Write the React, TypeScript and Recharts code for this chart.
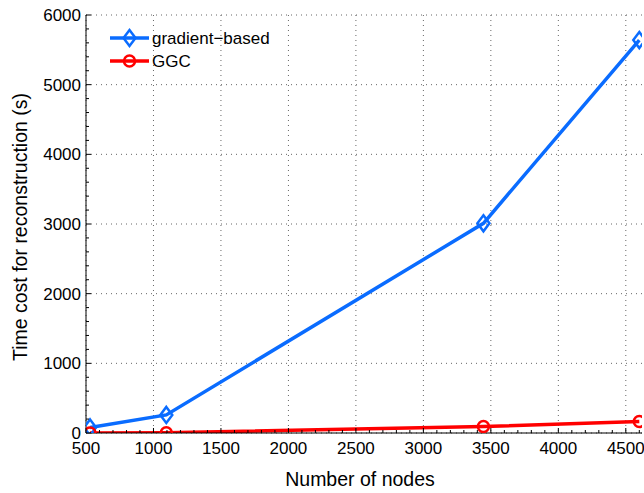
import { CartesianGrid, Legend, Line, LineChart, XAxis, YAxis } from "recharts";

const nodes = [530, 1095, 3445, 4600];
const gradientBased = [80, 260, 3010, 5640];
const ggc = [0, 5, 93, 165];

const xMajor = [500, 1000, 1500, 2000, 2500, 3000, 3500, 4000, 4500];
const yMajor = [0, 1000, 2000, 3000, 4000, 5000, 6000];
const xAll: number[] = [];
for (let v = 500; v <= 4600; v += 100) xAll.push(v);
const yAll: number[] = [];
for (let v = 0; v <= 6000; v += 200) yAll.push(v);

const X_DOMAIN = [500, 4620];
const Y_DOMAIN = [0, 6000];

const data = nodes.map((n, i) => ({ n, grad: gradientBased[i], ggc: ggc[i] }));

const BLUE = "#0a6cff";
const RED = "#ff0000";
const FONT = "'Liberation Sans', Arial, Helvetica, sans-serif";

const BottomTick = (props: any) => {
  const { x, y, payload } = props;
  const major = payload.value % 500 === 0;
  return (
    <g>
      <line x1={x} y1={y} x2={x} y2={y - (major ? 5 : 3)} stroke="#000" />
      {major && (
        <text x={x} y={y + 21} textAnchor="middle" fontSize={17} fill="#000" fontFamily={FONT}>
          {payload.value}
        </text>
      )}
    </g>
  );
};

const LeftTick = (props: any) => {
  const { x, y, payload } = props;
  const major = payload.value % 1000 === 0;
  return (
    <g>
      <line x1={x} y1={y} x2={x + (major ? 5 : 3)} y2={y} stroke="#000" />
      {major && (
        <text x={x - 5} y={y + 6} textAnchor="end" fontSize={17} fill="#000" fontFamily={FONT}>
          {payload.value}
        </text>
      )}
    </g>
  );
};

const TopTick = (props: any) => {
  const { x, y, payload } = props;
  const major = payload.value % 500 === 0;
  return <line x1={x} y1={y} x2={x} y2={y + (major ? 5 : 3)} stroke="#000" />;
};

const RightTick = (props: any) => {
  const { x, y, payload } = props;
  const major = payload.value % 1000 === 0;
  return <line x1={x} y1={y} x2={x - (major ? 5 : 3)} y2={y} stroke="#000" />;
};

const Diamond = (props: any) => {
  const { cx, cy, index } = props;
  if (cx == null || cy == null) return <g key={index} />;
  return (
    <path
      key={index}
      d={`M${cx},${cy - 8} L${cx + 6},${cy} L${cx},${cy + 8} L${cx - 6},${cy} Z`}
      fill="none"
      stroke={BLUE}
      strokeWidth={2.5}
    />
  );
};

const Circle = (props: any) => {
  const { cx, cy, index } = props;
  if (cx == null || cy == null) return <g key={index} />;
  return <circle key={index} cx={cx} cy={cy} r={5.5} fill="none" stroke={RED} strokeWidth={2.5} />;
};

const LegendBox = () => (
  <svg width={180} height={50} style={{ display: "block" }}>
    <line x1={2} y1={12} x2={41} y2={12} stroke={BLUE} strokeWidth={3.5} />
    <path d="M21.5,4 L27.5,12 L21.5,20 L15.5,12 Z" fill="none" stroke={BLUE} strokeWidth={2.5} />
    <text x={44} y={17.5} fontSize={17} fontFamily={FONT} fill="#000">
      gradient−based
    </text>
    <line x1={2} y1={35} x2={41} y2={35} stroke={RED} strokeWidth={3.5} />
    <circle cx={21.5} cy={35} r={5.5} fill="none" stroke={RED} strokeWidth={2.5} />
    <text x={44} y={40.5} fontSize={17} fontFamily={FONT} fill="#000">
      GGC
    </text>
  </svg>
);

// grid positions follow the same linear mapping as the plot area
const gridX = (args: any) => {
  const o = args?.offset;
  if (!o) return [];
  return xMajor.map((v) => o.left + ((v - X_DOMAIN[0]) / (X_DOMAIN[1] - X_DOMAIN[0])) * o.width);
};
const gridY = (args: any) => {
  const o = args?.offset;
  if (!o) return [];
  return yMajor.map((v) => o.top + o.height - ((v - Y_DOMAIN[0]) / (Y_DOMAIN[1] - Y_DOMAIN[0])) * o.height);
};

export default function App() {
  return (
    <div style={{ position: "absolute", left: 0, top: 0, background: "#fff" }}>
      <LineChart
        width={644}
        height={493}
        data={data}
        margin={{ top: 15, right: 2, bottom: 0, left: 0 }}
        style={{ fontFamily: FONT }}
      >
        <CartesianGrid
          stroke="#666"
          strokeDasharray="1 4"
          verticalCoordinatesGenerator={gridX}
          horizontalCoordinatesGenerator={gridY}
        />
        <XAxis
          dataKey="n"
          type="number"
          domain={X_DOMAIN}
          allowDataOverflow
          ticks={xAll}
          interval={0}
          height={60}
          tickSize={0}
          tickMargin={0}
          tickLine={false}
          tick={BottomTick}
          axisLine={{ stroke: "#000" }}
          label={{
            content: (p: any) => {
              const vb = p.viewBox || {};
              return (
                <text
                  x={vb.x + vb.width / 2 - 4}
                  y={vb.y + 53}
                  textAnchor="middle"
                  fontSize={19.5}
                  fontFamily={FONT}
                  fill="#000"
                >
                  Number of nodes
                </text>
              );
            },
          }}
        />
        <XAxis
          xAxisId="top"
          orientation="top"
          type="number"
          domain={X_DOMAIN}
          allowDataOverflow
          ticks={xAll}
          interval={0}
          height={0}
          tickSize={0}
          tickMargin={0}
          tickLine={false}
          tick={TopTick}
          axisLine={{ stroke: "#000" }}
        />
        <YAxis
          type="number"
          domain={Y_DOMAIN}
          allowDataOverflow
          ticks={yAll}
          interval={0}
          width={86}
          tickSize={0}
          tickMargin={0}
          tickLine={false}
          tick={LeftTick}
          axisLine={{ stroke: "#000" }}
          label={{
            content: (p: any) => {
              const vb = p.viewBox || {};
              const cy = vb.y + vb.height / 2 + 3;
              return (
                <text
                  x={27}
                  y={cy}
                  transform={`rotate(-90, 27, ${cy})`}
                  textAnchor="middle"
                  fontSize={19.5}
                  fontFamily={FONT}
                  fill="#000"
                >
                  Time cost for reconstruction (s)
                </text>
              );
            },
          }}
        />
        <YAxis
          yAxisId="right"
          orientation="right"
          type="number"
          domain={Y_DOMAIN}
          allowDataOverflow
          ticks={yAll}
          interval={0}
          width={0}
          tickSize={0}
          tickMargin={0}
          tickLine={false}
          tick={RightTick}
          axisLine={{ stroke: "#000" }}
        />
        <Legend
          layout="vertical"
          align="center"
          verticalAlign="middle"
          content={() => <LegendBox />}
          wrapperStyle={{ left: 108, top: 26, width: 180, height: 50 }}
        />
        <Line
          dataKey="grad"
          stroke={BLUE}
          strokeWidth={3.5}
          dot={Diamond}
          activeDot={false}
          isAnimationActive={false}
        />
        <Line
          dataKey="ggc"
          stroke={RED}
          strokeWidth={3.5}
          dot={Circle}
          activeDot={false}
          isAnimationActive={false}
        />
      </LineChart>
    </div>
  );
}
